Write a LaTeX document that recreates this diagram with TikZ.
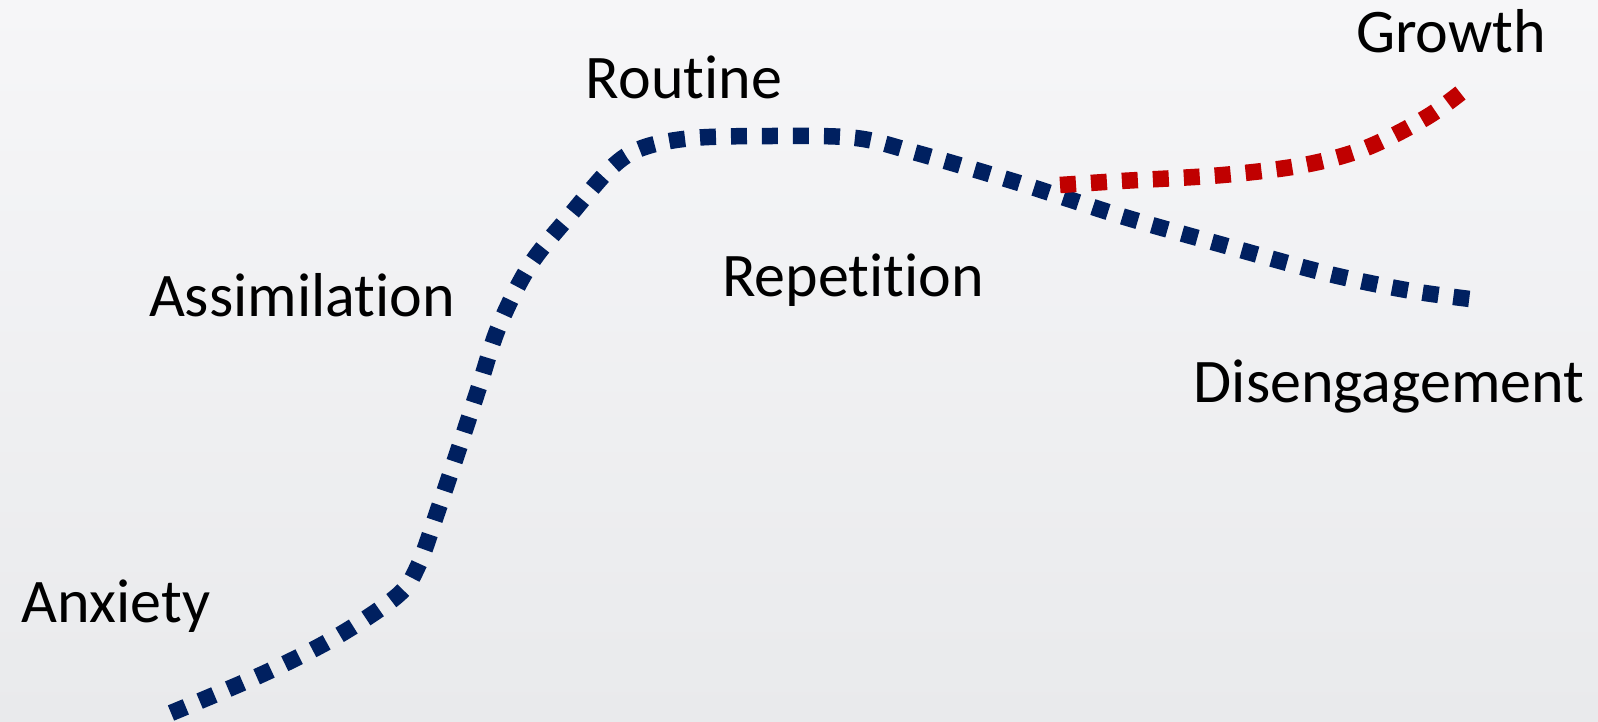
\documentclass[tikz,border=0pt]{standalone}
\usepackage{fontspec}
\setmainfont{Carlito}[Ligatures=NoCommon]
\definecolor{navy}{HTML}{002060}
\definecolor{darkred}{HTML}{C00000}
\definecolor{bgtop}{HTML}{F6F6F8}
\definecolor{bgbot}{HTML}{E9EAEC}
\tikzset{
  label/.style={anchor=base, inner sep=0pt, font=\fontsize{62}{70}\selectfont, text=black},
  dotline/.style={line width=16.5pt, dash pattern=on 16pt off 15pt, line cap=butt},
}
\begin{document}
\begin{tikzpicture}[x=1pt,y=-1pt]
\shade[top color=bgtop, bottom color=bgbot] (0,0) rectangle (1598,722);
\useasboundingbox (0,0) rectangle (1598,722);
\draw[dotline, navy] plot[smooth, tension=0.55] coordinates {
 (171,713) (265,673) (336,637) (397,596) (418,566) (438,510) (459,448) (479,387) (499,326) (530,265) (571,214) (611,168) (642,148) (693,138) (775,136) (856,138) (917,153) (1019,183) (1121,216) (1223,245) (1325,273) (1406,290) (1470,299)};
\draw[dotline, darkred] plot[smooth, tension=0.55] coordinates {
 (1060,185) (1121,181) (1223,175) (1304,165) (1366,148) (1427,117) (1468,87)};
\node[label] (growth) at (1451,53) {Growth};
\node[label] (routine) at (684,99) {Routine};
\node[label] (assim) at (302,316) {Assimilation};
\node[label] (rep) at (853,296) {Repetition};
\node[label] (dis) at (1389,402) {Disengagement};
\node[label] (anx) at (116,622) {Anxiety};
\end{tikzpicture}
\end{document}
